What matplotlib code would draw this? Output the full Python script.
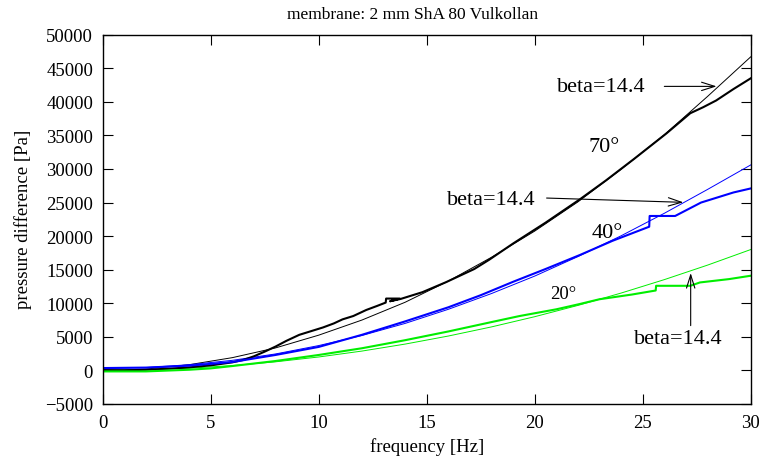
import matplotlib
matplotlib.use("Agg")
import matplotlib.pyplot as plt

plt.rcParams['font.family'] = ['Liberation Serif', 'DejaVu Serif']
plt.rcParams['axes.unicode_minus'] = True

# ---- data ----
freq_fit = [0, 2, 4, 6, 8, 10, 12, 14, 16, 18, 20, 22, 24, 26, 28, 30]
fit70 = [0, 200, 850, 1900, 3350, 5250, 7500, 10150, 13300, 16850, 20750, 25100, 29950, 35100, 40800, 46700]
fit40 = [300, 420, 850, 1500, 2450, 3700, 5200, 7000, 9100, 11450, 14050, 16950, 20050, 23400, 26950, 30600]
fit20 = [0, 80, 320, 720, 1280, 2000, 2880, 3920, 5120, 6480, 8000, 9680, 11520, 13520, 15680, 18000]

f70 = [0, 1, 2, 3, 4, 5, 6, 6.5, 7, 7.5, 8, 8.5, 9.1, 9.6, 10.2, 10.7, 11.1, 11.6, 12.2, 12.7,
       13.1, 13.12, 13.75, 13.3, 13.8, 14.8, 15.9, 17.2, 17.9, 19.0, 20.5, 22.1, 23.3, 24.6,
       26.1, 27.2, 27.8, 28.4, 29.2, 30]
p70 = [50, 0, 100, 250, 450, 750, 1200, 1550, 2100, 2800, 3550, 4400, 5300, 5800, 6400, 7000,
       7600, 8100, 9000, 9600, 10100, 10700, 10700, 10300, 10650, 11650, 13150, 15100, 16500,
       18900, 22000, 25500, 28300, 31500, 35300, 38300, 39200, 40200, 41900, 43500]

f40 = [0, 2, 4, 6, 8, 10, 12, 14, 16, 17.5, 19, 20.5, 22.1, 23.6, 25.3, 25.32, 26.5, 27.7, 29.2, 30]
p40 = [350, 420, 700, 1250, 2300, 3500, 5300, 7300, 9400, 11200, 13200, 15100, 17200, 19300,
       21400, 23000, 23000, 25000, 26500, 27100]

f20 = [0, 2, 4, 5, 6, 8, 10, 12, 14, 16, 18, 19.3, 21, 22.1, 23, 24.5, 25.6, 25.62, 27.2,
       27.65, 29, 30]
p20 = [-150, -150, 100, 300, 650, 1400, 2300, 3300, 4500, 5800, 7200, 8100, 9100, 9900,
       10600, 11300, 11900, 12600, 12600, 13100, 13600, 14100]

x_ticks = [0, 5, 10, 15, 20, 25, 30]
y_ticks = [-5000, 0, 5000, 10000, 15000, 20000, 25000, 30000, 35000, 40000, 45000, 50000]

title = "membrane: 2 mm ShA 80 Vulkollan"
xlabel = "frequency [Hz]"
ylabel = "pressure difference [Pa]"

GREEN = '#00ee00'
BLUE = '#0000ff'

fig = plt.figure(figsize=(7.61, 4.64), dpi=100)
ax = fig.add_axes([0.1350, 0.1272, 0.8515, 0.7959])

ax.plot(freq_fit, fit70, color='black', lw=0.7)
ax.plot(freq_fit, fit40, color=BLUE, lw=0.7)
ax.plot(freq_fit, fit20, color=GREEN, lw=0.7)
ax.plot(f70, p70, color='black', lw=1.5)
ax.plot(f40, p40, color=BLUE, lw=1.5)
ax.plot(f20, p20, color=GREEN, lw=1.5)

ax.set_xlim(0, 30)
ax.set_ylim(-5000, 50000)
ax.set_xticks(x_ticks)
ax.set_yticks(y_ticks)
ax.set_xticklabels([str(v) for v in x_ticks])
ax.set_yticklabels([str(v).replace('-', '\u2212') for v in y_ticks])
ax.tick_params(direction='in', length=7.5, width=0.8, top=True, right=True,
               labelsize=13.5, pad=7)
for s in ax.spines.values():
    s.set_linewidth(1.0)

fig.text(413 / 761, 1 - 19 / 464, title, ha='center', va='baseline', fontsize=12.5)
fig.text(427 / 761, 1 - 447 / 464, xlabel, ha='center', va='center', fontsize=13.5)
fig.text(23 / 761, 1 - 219 / 464, ylabel, ha='center', va='center', rotation=90, fontsize=13.5)

arrow = dict(arrowstyle='->,head_length=0.95,head_width=0.3', color='black', lw=0.8,
             mutation_scale=10, shrinkA=0, shrinkB=0)

ax.annotate('', xy=(28.42, 42300), xytext=(26.0, 42300), arrowprops=arrow)
ax.text(23.1, 42300, 'beta=14.4', ha='center', va='center', fontsize=16)
ax.annotate('', xy=(26.88, 25030), xytext=(20.55, 25670), arrowprops=arrow)
ax.text(18.0, 25500, 'beta=14.4', ha='center', va='center', fontsize=16)
ax.annotate('', xy=(27.22, 14500), xytext=(27.22, 6670), arrowprops=arrow)
ax.text(26.65, 4750, 'beta=14.4', ha='center', va='center', fontsize=16)

ax.text(23.2, 33300, '70°', ha='center', va='center', fontsize=16)
ax.text(23.35, 20600, '40°', ha='center', va='center', fontsize=16)
ax.text(21.3, 11400, '20°', ha='center', va='center', fontsize=13.5)

fig.savefig('out.png', dpi=100)
